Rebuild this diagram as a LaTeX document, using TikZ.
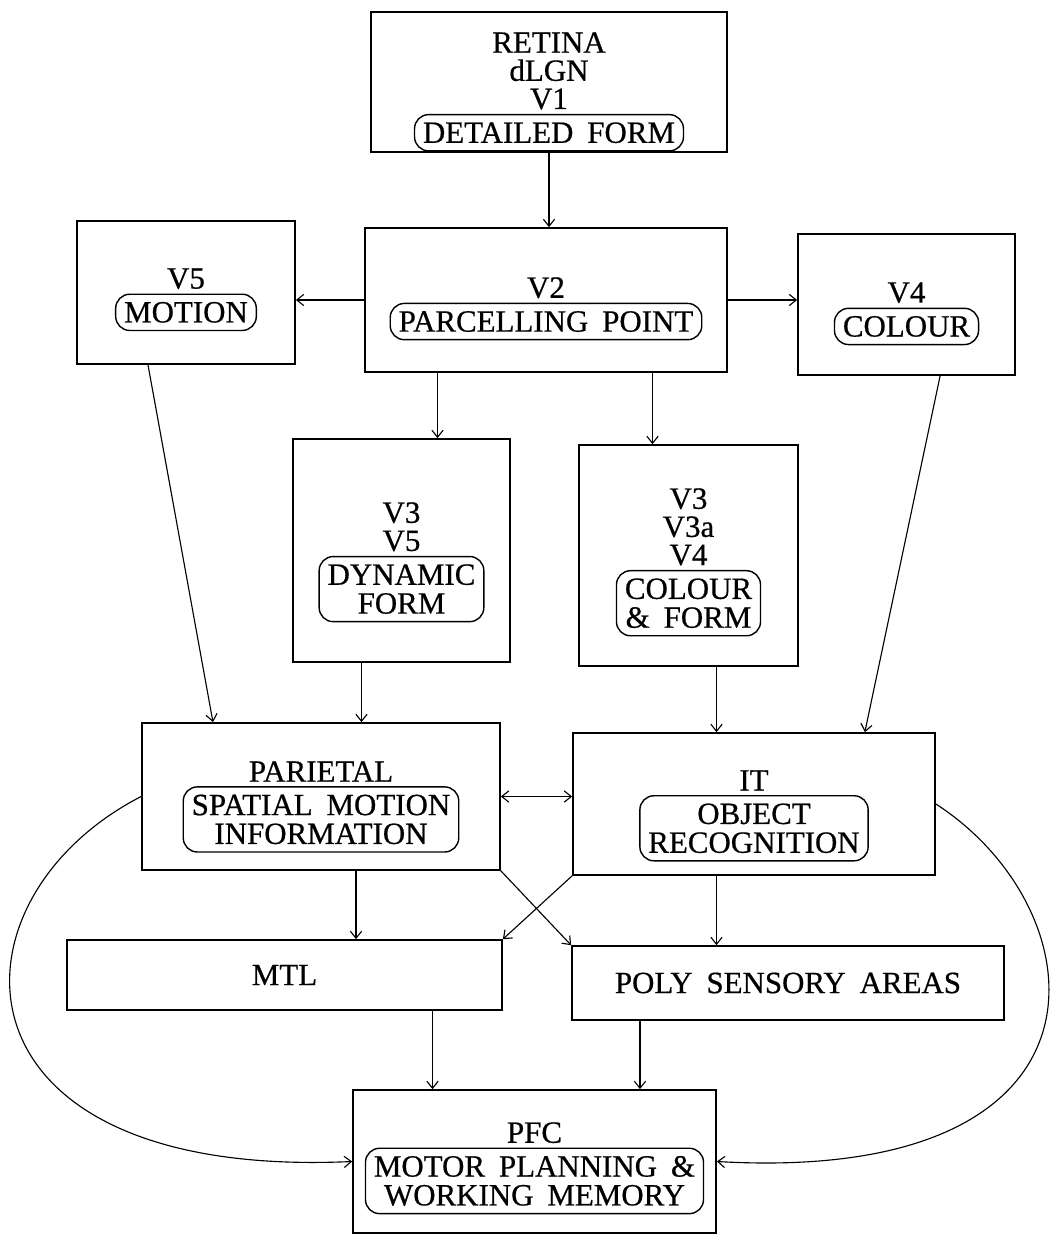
\documentclass[tikz,border=0pt]{standalone}
\usepackage{fontspec}
\setmainfont{Liberation Serif}[WordSpace=1.8,FakeBold=0.6]
\usetikzlibrary{arrows.meta,positioning}

\begin{document}
\begin{tikzpicture}[x=0.025cm, y=-0.025cm,
    unit/.style={draw, line width=1.2pt, inner sep=0pt, font=\fontsize{22}{20}\selectfont},
    hdr/.style={align=center, inner sep=0pt, font=\fontsize{22}{20}\selectfont},
    func/.style={draw, line width=1pt, rounded corners=10pt, align=center,
                 inner xsep=6pt, inner ysep=5.5pt, font=\fontsize{22}{20.5}\selectfont},
    arr/.style={-{Straight Barb[length=5pt,width=8pt]}, line width=0.8pt},
    arrs/.style={{Straight Barb[length=5pt,width=8pt]}-{Straight Barb[length=5pt,width=8pt]}, line width=0.8pt}]

\useasboundingbox (0,0) rectangle (1055,1241);

% Retina / dLGN / V1
\node[unit, minimum width=8.9cm, minimum height=3.5cm] (retina) at (549,82) {};
\node[hdr, anchor=north] (retinah) at (549,32) {RETINA\\dLGN\\V1};
\node[func, below=3pt of retinah] (retinaf) {DETAILED FORM};

% V2
\node[unit, minimum width=9.05cm, minimum height=3.6cm] (v2) at (546,300) {};
\node[hdr, anchor=north] (v2h) at (546,277) {V2};
\node[func, below=3pt of v2h] (v2f) {PARCELLING POINT};

% V5 and V4
\node[unit, minimum width=5.45cm, minimum height=3.575cm] (v5) at (186,292.5) {};
\node[hdr, anchor=north] (v5h) at (186,268) {V5};
\node[func, below=3pt of v5h] (v5f) {MOTION};

\node[unit, minimum width=5.425cm, minimum height=3.525cm] (v4) at (906.5,304.5) {};
\node[hdr, anchor=north] (v4h) at (906.5,282) {V4};
\node[func, below=3pt of v4h] (v4f) {COLOUR};

% second level
\node[unit, minimum width=5.425cm, minimum height=5.575cm] (dyn) at (401.5,550.5) {};
\node[hdr, anchor=north] (dynh) at (401.5,502) {V3\\V5};
\node[func, below=3pt of dynh] (dynf) {DYNAMIC\\FORM};

\node[unit, minimum width=5.475cm, minimum height=5.525cm] (cf) at (688.5,555.5) {};
\node[hdr, anchor=north] (cfh) at (688.5,488) {V3\\V3a\\V4};
\node[func, below=3pt of cfh] (cff) {COLOUR\\\& FORM};

% parietal and IT
\node[unit, minimum width=8.95cm, minimum height=3.675cm] (par) at (321,796.5) {};
\node[hdr, anchor=north] (parh) at (321,761) {PARIETAL};
\node[func, below=3pt of parh] (parf) {SPATIAL MOTION\\INFORMATION};

\node[unit, minimum width=9.05cm, minimum height=3.55cm] (it) at (754,804) {};
\node[hdr, anchor=north] (ith) at (754,770) {IT};
\node[func, below=3pt of ith] (itf) {OBJECT\\RECOGNITION};

% MTL, poly sensory
\node[unit, minimum width=10.875cm, minimum height=1.75cm] (mtl) at (284.5,975) {MTL};
\node[unit, minimum width=10.8cm, minimum height=1.85cm] (poly) at (788,983) {POLY SENSORY AREAS};

% PFC
\node[unit, minimum width=9.075cm, minimum height=3.575cm] (pfc) at (534.5,1161.5) {};
\node[hdr, anchor=north] (pfch) at (534.5,1122) {PFC};
\node[func, below=3pt of pfch] (pfcf) {MOTOR PLANNING \&\\WORKING MEMORY};

% connections
\draw[arr] (retina.south) -- (retina.south |- v2.north);
\draw[arr] (v2.west) -- (v2.west -| v5.east);
\draw[arr] (v2.east) -- (v2.east -| v4.west);

\coordinate (d1) at ([xshift=0.9cm]dyn.north);
\coordinate (d2) at ([xshift=-0.9cm]cf.north);
\draw[arr] (v2.south -| d1) -- (d1);
\draw[arr] (v2.south -| d2) -- (d2);

\coordinate (p1) at ([xshift=-1cm]dyn.south);
\coordinate (i1) at ([xshift=0.7cm]cf.south);
\draw[arr] ([xshift=-0.95cm]v5.south) -- ([xshift=-2.7cm]par.north);
\draw[arr] (p1) -- (p1 |- par.north);
\draw[arr] (i1) -- (i1 |- it.north);
\draw[arr] ([xshift=0.84cm]v4.south) -- ([xshift=2.77cm]it.north);

\draw[arrs] (par.east) -- (par.east -| it.west);

\coordinate (m1) at ([xshift=0.875cm]par.south);
\draw[arr] (m1) -- (m1 |- mtl.north);
\draw[arr] (i1 |- it.south) -- (i1 |- poly.north);
\draw[arr] (par.south east) -- (poly.north west);
\draw[arr] (it.south west) -- (mtl.north east);

\coordinate (f1) at ([xshift=3.7cm]mtl.south);
\coordinate (f2) at ([xshift=-3.7cm]poly.south);
\draw[arr] (f1) -- (f1 |- pfc.north);
\draw[arr] (f2) -- (f2 |- pfc.north);

% long loops to PFC
\draw[arr] (par.west) .. controls (-60,900) and (-60,1180) .. (pfc.west);
\draw[arr] (it.east) .. controls (1100,910) and (1130,1185) .. (pfc.east);

\end{tikzpicture}
\end{document}
